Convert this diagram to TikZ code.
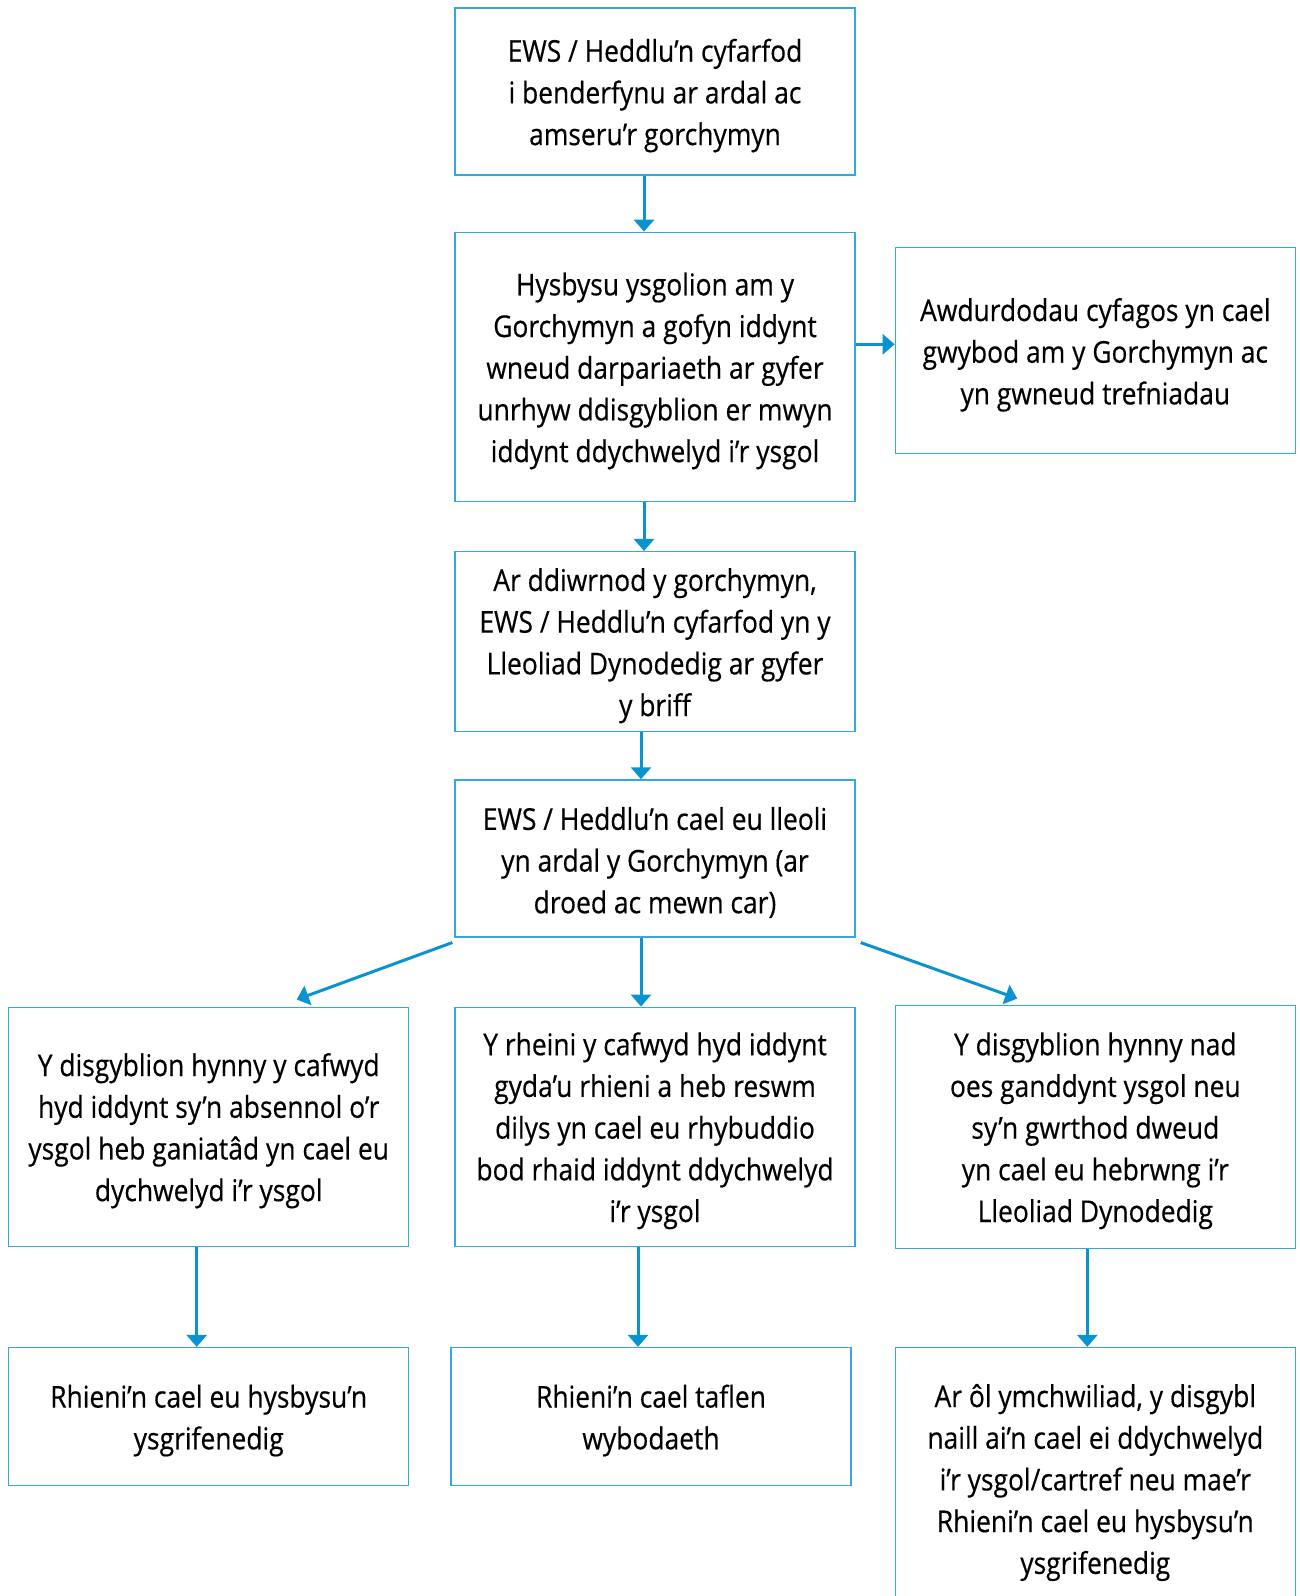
\documentclass[tikz,border=0pt]{standalone}
\usepackage{fontspec}
\setmainfont[FakeStretch=0.88, FakeBold=0.4]{Open Sans}
\usepackage{tikz}
\usetikzlibrary{arrows.meta}
\usetikzlibrary{positioning}
\definecolor{flowline}{RGB}{10,147,209}
\definecolor{flowbox}{RGB}{53,168,224}
\newcommand\toplift{\rule{0pt}{31pt}}
\tikzset{
  box/.style = {draw=flowbox, line width=1.3pt, align=center,
    minimum width=400pt, inner sep=0pt,
    font=\fontsize{30}{41.7}\selectfont},
  arr/.style = {draw=flowline, line width=3pt,
    -{Triangle[length=12pt, width=20pt]}},
}

\begin{document}
\begin{tikzpicture}[x=1pt, y=-1pt]
    \useasboundingbox (0,0) rectangle (1299,1596);
    \clip (0,0) rectangle (1299,1596);
    \node [box, minimum height=167pt] (meet) at (655,91.5)
      {\toplift EWS / Heddlu’n cyfarfod\\ i benderfynu ar ardal ac\\ amseru’r gorchymyn};
    \node [box, minimum height=269pt, below=56pt of meet] (schools)
      {\toplift Hysbysu ysgolion am y\\ Gorchymyn a gofyn iddynt\\ wneud darpariaeth ar gyfer\\ unrhyw ddisgyblion er mwyn\\ iddynt ddychwelyd i’r ysgol};
    \node [box, minimum height=206pt, right=39pt of schools, yshift=16pt] (nearby)
      {\toplift Awdurdodau cyfagos yn cael\\ gwybod am y Gorchymyn ac\\ yn gwneud trefniadau};
    \node [box, minimum height=180pt, below=49pt of schools] (briff)
      {\toplift Ar ddiwrnod y gorchymyn,\\ EWS / Heddlu’n cyfarfod yn y\\ Lleoliad Dynodedig ar gyfer\\ y briff};
    \node [box, minimum height=157pt, below=47pt of briff] (deploy)
      {\toplift EWS / Heddlu’n cael eu lleoli\\ yn ardal y Gorchymyn (ar\\ droed ac mewn car)};
    \node [box, minimum height=239pt, below=69pt of deploy] (warned)
      {\toplift Y rheini y cafwyd hyd iddynt\\ gyda’u rhieni a heb reswm\\ dilys yn cael eu rhybuddio\\ bod rhaid iddynt ddychwelyd\\ i’r ysgol};
    \node [box, minimum height=239pt, left=45pt of warned] (returned)
      {\toplift Y disgyblion hynny y cafwyd\\ hyd iddynt sy’n absennol o’r\\ ysgol heb ganiatâd yn cael eu\\ dychwelyd i’r ysgol};
    \node [box, minimum height=243pt, right=39pt of warned] (escorted)
      {\toplift Y disgyblion hynny nad\\ oes ganddynt ysgol neu\\ sy’n gwrthod dweud\\ yn cael eu hebrwng i’r\\ Lleoliad Dynodedig};
    \node [box, minimum height=138pt, below=100pt of returned] (letter)
      {\toplift Rhieni’n cael eu hysbysu’n\\ ysgrifenedig};
    \node [box, minimum height=138pt, below=100pt of warned, xshift=-4pt] (leaflet)
      {\toplift Rhieni’n cael taflen\\ wybodaeth};
    \node [box, minimum height=262pt, below=98pt of escorted] (inquiry)
      {\toplift Ar ôl ymchwiliad, y disgybl\\ naill ai’n cael ei ddychwelyd\\ i’r ysgol/cartref neu mae’r\\ Rhieni’n cael eu hysbysu’n\\ ysgrifenedig};
    % connectors
    \draw [arr] ([xshift=-11pt]meet.south) -- ([xshift=-11pt]schools.north);
    \draw [arr] ([yshift=22.5pt]schools.east) -- ([yshift=22.5pt]schools.east -| nearby.west);
    \draw [arr] ([xshift=-11pt]schools.south) -- ([xshift=-11pt]briff.north);
    \draw [arr] ([xshift=-14pt]briff.south) -- ([xshift=-14pt]deploy.north);
    \draw [arr] ([shift={(-2pt,-5pt)}]deploy.south west) -- ([shift={(88pt,7pt)}]returned.north);
    \draw [arr] ([xshift=-14pt]deploy.south) -- ([xshift=-14pt]warned.north);
    \draw [arr] ([shift={(5pt,-5pt)}]deploy.south east) -- ([shift={(-78pt,6pt)}]escorted.north);
    \draw [arr] ([xshift=-12pt]returned.south) -- ([xshift=-12pt]returned.south |- letter.north);
    \draw [arr] ([xshift=-17pt]warned.south) -- ([xshift=-17pt]warned.south |- leaflet.north);
    \draw [arr] ([xshift=-8pt]escorted.south) -- ([xshift=-8pt]escorted.south |- inquiry.north);
\end{tikzpicture}
\end{document}
